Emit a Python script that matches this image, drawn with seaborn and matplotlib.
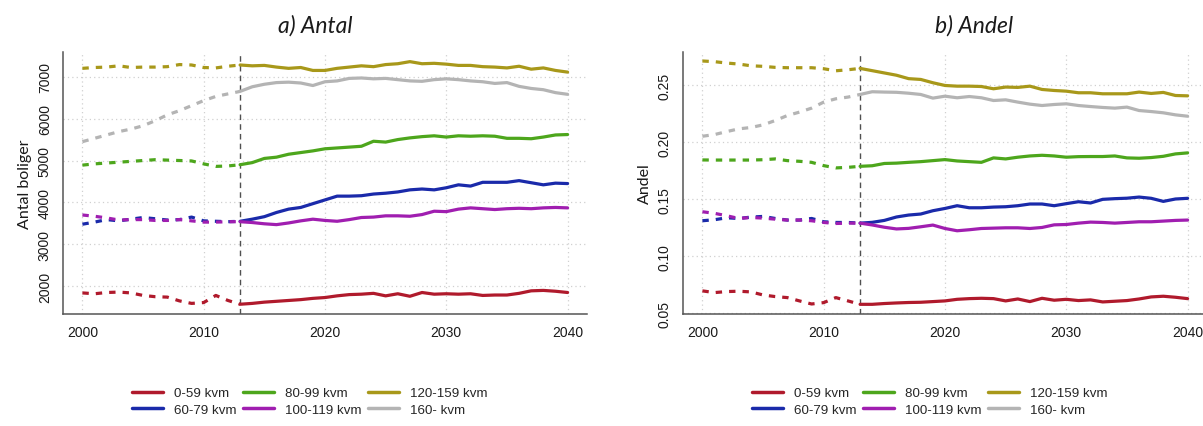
import numpy as np
import pandas as pd
import matplotlib
matplotlib.use("Agg")
import matplotlib.pyplot as plt
from matplotlib.lines import Line2D
import seaborn as sns

# ---- data -------------------------------------------------------------
years = list(range(2000, 2041))
split_year = 2013  # observed up to here, projection afterwards

size_labels = ["0-59 kvm", "60-79 kvm", "80-99 kvm", "100-119 kvm", "120-159 kvm", "160- kvm"]
size_colors = ["#B01A2C", "#1A2AAA", "#4DA61C", "#A01EB0", "#A8981A", "#B4B4B4"]

# Number of dwellings (a) Antal)
antal_0_59 = [1840, 1820, 1850, 1860, 1840, 1780, 1750, 1740, 1650, 1590, 1610, 1780, 1660, 1570,
              1590, 1620, 1640, 1660, 1680, 1710, 1730, 1770, 1800, 1810, 1830, 1770, 1820, 1760,
              1850, 1810, 1820, 1810, 1820, 1780, 1790, 1790, 1830, 1890, 1900, 1880, 1850]
antal_60_79 = [3480, 3530, 3590, 3560, 3600, 3640, 3610, 3580, 3590, 3650, 3560, 3550, 3540, 3550,
               3600, 3660, 3760, 3840, 3880, 3970, 4060, 4150, 4150, 4160, 4200, 4220, 4250, 4300,
               4320, 4300, 4350, 4420, 4390, 4480, 4480, 4480, 4520, 4470, 4420, 4460, 4450]
antal_80_99 = [4890, 4920, 4940, 4960, 4980, 5000, 5020, 5010, 5000, 4990, 4920, 4860, 4870, 4900,
               4950, 5050, 5080, 5150, 5190, 5230, 5280, 5300, 5320, 5340, 5460, 5440, 5500, 5540,
               5570, 5590, 5560, 5590, 5580, 5590, 5580, 5530, 5530, 5520, 5560, 5610, 5620]
antal_100_119 = [3700, 3670, 3630, 3580, 3590, 3590, 3570, 3570, 3590, 3560, 3530, 3530, 3540, 3540,
                 3520, 3490, 3470, 3510, 3560, 3600, 3570, 3550, 3590, 3640, 3650, 3680, 3680, 3670,
                 3710, 3790, 3780, 3840, 3870, 3850, 3830, 3850, 3860, 3850, 3870, 3880, 3870]
antal_120_159 = [7200, 7220, 7230, 7260, 7220, 7230, 7230, 7240, 7290, 7280, 7220, 7210, 7250, 7280,
                 7260, 7270, 7230, 7200, 7220, 7150, 7150, 7200, 7230, 7260, 7240, 7290, 7310, 7360,
                 7310, 7320, 7300, 7270, 7270, 7240, 7230, 7210, 7250, 7180, 7210, 7150, 7110]
antal_160 = [5450, 5530, 5610, 5690, 5750, 5830, 5950, 6090, 6190, 6310, 6430, 6530, 6590, 6650,
             6760, 6820, 6860, 6870, 6850, 6790, 6880, 6900, 6960, 6970, 6950, 6960, 6930, 6900,
             6890, 6930, 6950, 6930, 6900, 6880, 6840, 6860, 6770, 6720, 6690, 6620, 6580]

# Share of dwellings (b) Andel)
andel_0_59 = [0.0696, 0.0681, 0.0690, 0.0693, 0.0687, 0.0660, 0.0646, 0.0637, 0.0608, 0.0581, 0.0593,
              0.0637, 0.0608, 0.0578, 0.0578, 0.0585, 0.0590, 0.0594, 0.0596, 0.0602, 0.0608, 0.0622,
              0.0628, 0.0631, 0.0628, 0.0608, 0.0625, 0.0602, 0.0631, 0.0614, 0.0622, 0.0611, 0.0617,
              0.0599, 0.0605, 0.0611, 0.0625, 0.0643, 0.0649, 0.0640, 0.0628]
andel_60_79 = [0.1312, 0.1321, 0.1338, 0.1332, 0.1344, 0.1350, 0.1332, 0.1318, 0.1318, 0.1332, 0.1303,
               0.1297, 0.1297, 0.1291, 0.1298, 0.1315, 0.1345, 0.1362, 0.1371, 0.1400, 0.1420, 0.1444,
               0.1426, 0.1426, 0.1432, 0.1435, 0.1444, 0.1459, 0.1459, 0.1444, 0.1462, 0.1479, 0.1468,
               0.1500, 0.1506, 0.1510, 0.1520, 0.1509, 0.1482, 0.1503, 0.1509]
andel_80_99 = [0.1846, 0.1845, 0.1845, 0.1845, 0.1845, 0.1848, 0.1855, 0.1840, 0.1834, 0.1825, 0.1796,
               0.1776, 0.1781, 0.1790, 0.1795, 0.1815, 0.1818, 0.1825, 0.1831, 0.1840, 0.1849, 0.1837,
               0.1831, 0.1825, 0.1864, 0.1855, 0.1870, 0.1881, 0.1887, 0.1881, 0.1870, 0.1875, 0.1876,
               0.1876, 0.1881, 0.1864, 0.1861, 0.1867, 0.1878, 0.1899, 0.1908]
andel_100_119 = [0.1391, 0.1377, 0.1356, 0.1332, 0.1341, 0.1335, 0.1326, 0.1318, 0.1318, 0.1312, 0.1297,
                 0.1288, 0.1291, 0.1291, 0.1275, 0.1255, 0.1240, 0.1245, 0.1259, 0.1274, 0.1244, 0.1224,
                 0.1233, 0.1244, 0.1247, 0.1250, 0.1250, 0.1244, 0.1253, 0.1276, 0.1279, 0.1291, 0.1300,
                 0.1297, 0.1291, 0.1297, 0.1303, 0.1303, 0.1309, 0.1315, 0.1318]
andel_120_159 = [0.2715, 0.2709, 0.2697, 0.2688, 0.2673, 0.2668, 0.2659, 0.2656, 0.2656, 0.2656, 0.2647,
                 0.2629, 0.2638, 0.2650, 0.2630, 0.2610, 0.2590, 0.2560, 0.2553, 0.2524, 0.2500, 0.2494,
                 0.2494, 0.2491, 0.2471, 0.2486, 0.2483, 0.2494, 0.2465, 0.2456, 0.2450, 0.2436, 0.2436,
                 0.2427, 0.2427, 0.2427, 0.2442, 0.2430, 0.2439, 0.2412, 0.2409]
andel_160 = [0.2054, 0.2069, 0.2095, 0.2119, 0.2131, 0.2154, 0.2192, 0.2236, 0.2266, 0.2301, 0.2354,
             0.2383, 0.2398, 0.2421, 0.2445, 0.2442, 0.2440, 0.2432, 0.2421, 0.2389, 0.2406, 0.2392,
             0.2403, 0.2392, 0.2368, 0.2374, 0.2354, 0.2336, 0.2324, 0.2333, 0.2339, 0.2324, 0.2315,
             0.2307, 0.2301, 0.2310, 0.2280, 0.2271, 0.2260, 0.2242, 0.2230]

antal_series = [antal_0_59, antal_60_79, antal_80_99, antal_100_119, antal_120_159, antal_160]
andel_series = [andel_0_59, andel_60_79, andel_80_99, andel_100_119, andel_120_159, andel_160]

x_ticks = [2000, 2010, 2020, 2030, 2040]
antal_ticks = [2000, 3000, 4000, 5000, 6000, 7000]
andel_ticks = [0.05, 0.10, 0.15, 0.20, 0.25]

# ---- style ------------------------------------------------------------
sns.set_style("white")
plt.rcParams["font.family"] = ["Liberation Sans", "DejaVu Sans"]

W, H = 1203, 427
fig = plt.figure(figsize=(W / 100, H / 100), dpi=100)

def px_axes(x0, y0, x1, y1):
    return fig.add_axes([x0 / W, 1 - y1 / H, (x1 - x0) / W, (y1 - y0) / H])

ax_a = px_axes(63, 53, 587, 315)
ax_b = px_axes(683, 53, 1207, 315)

grid_kw = dict(color="#D0D0D0", lw=0.9, linestyle=(0, (1, 2.5)))
axis_col = "#555555"

def draw_panel(ax, series, yticks, ylim, yfmt, ylabel):
    for xv in x_ticks:
        ax.axvline(xv, zorder=0, **grid_kw)
    for yv in yticks:
        ax.axhline(yv, zorder=0, **grid_kw)
    ax.axvline(split_year, color="#505050", lw=1.0, linestyle=(0, (4, 3)), zorder=1)

    yr = np.array(years)
    hist = yr <= split_year
    proj = yr >= split_year
    for vals, col in zip(series, size_colors):
        vals = np.array(vals)
        sns.lineplot(x=yr[hist], y=vals[hist], ax=ax, color=col, lw=2.3,
                     linestyle=(0, (2, 2.2)), zorder=3, errorbar=None)
        sns.lineplot(x=yr[proj], y=vals[proj], ax=ax, color=col, lw=2.3,
                     zorder=3, errorbar=None)

    ax.set_xlim(1998.4, 2041.6)
    ax.set_ylim(*ylim)
    ax.set_xticks(x_ticks)
    ax.set_xticklabels([str(v) for v in x_ticks])
    ax.set_yticks(yticks)
    ax.set_yticklabels([yfmt(v) for v in yticks], rotation=90, va="center")
    ax.tick_params(direction="out", length=5, width=1, color=axis_col,
                   labelsize=10, labelcolor="#1a1a1a", pad=3)
    for s in ["top", "right"]:
        ax.spines[s].set_visible(False)
    for s in ["left", "bottom"]:
        ax.spines[s].set_color(axis_col)
        ax.spines[s].set_linewidth(1.1)
    ax.set_xlabel("")
    ax.set_ylabel(ylabel, fontsize=11.5, family=["Lato", "DejaVu Sans"], color="#1a1a1a", labelpad=4)
    ax.grid(False)

draw_panel(ax_a, antal_series, antal_ticks, (1337, 7590), lambda v: f"{v:d}", "Antal boliger")
draw_panel(ax_b, andel_series, andel_ticks, (0.0493, 0.2794), lambda v: f"{v:.2f}", "Andel")

fig.text(315 / W, 1 - 26 / H, "a) Antal", ha="center", va="center", fontsize=16.5,
         style="italic", family=["Lato", "DejaVu Sans"], color="#1a1a1a")
fig.text(974 / W, 1 - 26 / H, "b) Andel", ha="center", va="center", fontsize=16.5,
         style="italic", family=["Lato", "DejaVu Sans"], color="#1a1a1a")

handles = [Line2D([], [], color=c, lw=2.5) for c in size_colors]
for x_left in (132, 752):
    fig.legend(handles, size_labels, loc="upper left",
               bbox_to_anchor=(x_left / W, 1 - 388 / H), ncol=3, frameon=False,
               fontsize=9.6, handlelength=2.3, handletextpad=0.85, columnspacing=0.5,
               labelspacing=0.3, borderpad=0, borderaxespad=0)

fig.savefig("out.png", dpi=100, facecolor="white")
